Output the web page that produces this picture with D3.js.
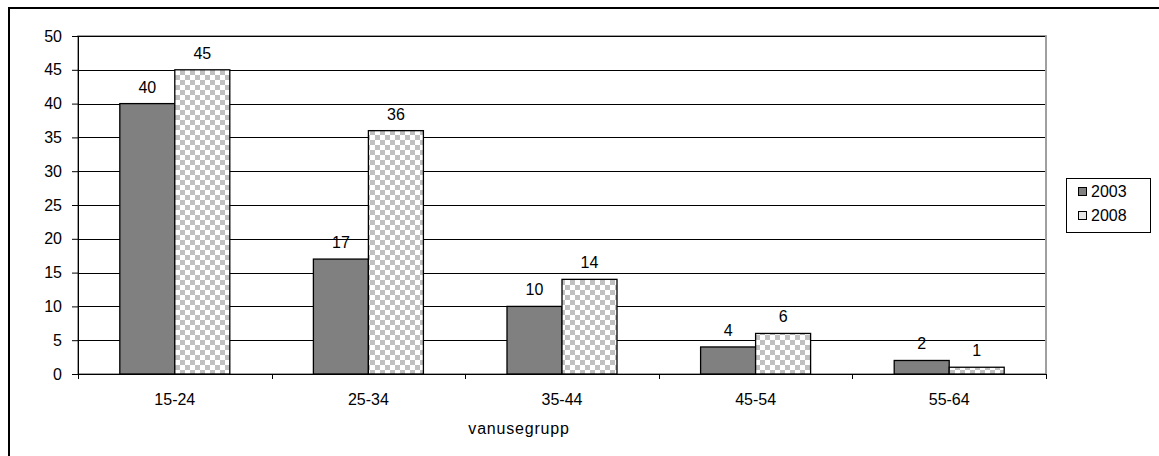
<!DOCTYPE html>
<html><head><meta charset="utf-8">
<script src="https://cdn.jsdelivr.net/npm/d3@7"></script>
<style>body{margin:0;background:#fff}svg text{font-family:"Liberation Sans",Arial,sans-serif;font-size:16px;fill:#000}</style>
</head><body><svg id="c" width="1159" height="456"></svg>
<script>
const categories = ["15-24","25-34","35-44","45-54","55-64"];
const seriesNames = ["2003","2008"];
const values2003 = [40,17,10,4,2];
const values2008 = [45,36,14,6,1];
const yTicks = [0,5,10,15,20,25,30,35,40,45,50];
const xTitle = "vanusegrupp";

const FS = "16px";
const svg = d3.select("#c");
const defs = svg.append("defs");
const pat = defs.append("pattern").attr("id","chk").attr("patternUnits","userSpaceOnUse")
  .attr("width",10).attr("height",10);
pat.append("rect").attr("width",10).attr("height",10).attr("fill","#fff");
pat.append("rect").attr("width",5).attr("height",5).attr("fill","#c0c0c0");
pat.append("rect").attr("x",5).attr("y",5).attr("width",5).attr("height",5).attr("fill","#c0c0c0");

// outer border
svg.append("path").attr("d","M9,456V8H1159").attr("fill","none").attr("stroke","#000").attr("stroke-width",2);

const L=78,R=1046,T=36,B=374;
const x = d3.scaleBand().domain(categories).range([L,R]).paddingInner(0).paddingOuter(0);
const y = d3.scaleLinear().domain([0,50]).range([B,T]);
const bw = 55;

// plot border (gray)
svg.append("rect").attr("x",L).attr("y",T).attr("width",R-L).attr("height",B-T)
  .attr("fill","none").attr("stroke","#808080").attr("stroke-width",1.5);

// gridlines
svg.append("g").selectAll("line").data(yTicks.filter(d=>d>0)).join("line")
  .attr("x1",L).attr("x2",R-1).attr("y1",d=>Math.round(y(d))+0.5).attr("y2",d=>Math.round(y(d))+0.5)
  .attr("stroke","#000").attr("stroke-width",1);

// y axis
const ya = svg.append("g").attr("transform",`translate(${L},0)`)
  .call(d3.axisLeft(y).tickValues(yTicks).tickSize(6).tickPadding(10));
ya.select(".domain").attr("stroke","#000");
ya.selectAll("line").attr("stroke","#000");
ya.selectAll("text").style("font-size",FS).attr("fill","#000");

// x axis
const xa = svg.append("g").attr("transform",`translate(0,${B})`);
xa.append("line").attr("x1",L).attr("x2",R).attr("y1",0.5).attr("y2",0.5).attr("stroke","#000");
const bounds = categories.map(c=>x(c)).concat([R]);
xa.selectAll("line.t").data(bounds).join("line").attr("class","t")
  .attr("x1",d=>Math.round(d)+0.5).attr("x2",d=>Math.round(d)+0.5).attr("y1",0).attr("y2",5).attr("stroke","#000");
xa.selectAll("text").data(categories).join("text")
  .attr("x",d=>x(d)+x.bandwidth()/2).attr("y",31).attr("text-anchor","middle")
  .style("font-size",FS).text(d=>d);

svg.append("text").attr("x",519).attr("y",434).attr("text-anchor","middle")
  .style("font-size",FS).style("letter-spacing","0.8px").text(xTitle);

// bars
const series = [values2003, values2008];
const fills = ["#808080","url(#chk)"];
series.forEach((vals,si)=>{
  const g = svg.append("g");
  const cx = c=>x(c)+x.bandwidth()/2 + (si===0?-bw:0);
  g.selectAll("rect").data(categories).join("rect")
    .attr("x",c=>cx(c)).attr("width",bw)
    .attr("y",(c,i)=>y(vals[i])).attr("height",(c,i)=>B-y(vals[i]))
    .attr("fill",fills[si]).attr("stroke","#000").attr("stroke-width",1.3);
  g.selectAll("text").data(categories).join("text")
    .attr("x",c=>cx(c)+bw/2).attr("y",(c,i)=>y(vals[i])-11).attr("text-anchor","middle")
    .style("font-size",FS).text((c,i)=>vals[i]);
});

// legend
const lg = svg.append("g");
lg.append("rect").attr("x",1066.5).attr("y",178.5).attr("width",84).attr("height",54)
  .attr("fill","#fff").attr("stroke","#000");
seriesNames.forEach((n,i)=>{
  lg.append("rect").attr("x",1078.5).attr("y",187.5+i*24).attr("width",8).attr("height",8)
    .attr("fill",i===0?"#808080":"#e6e6e6").attr("stroke","#000");
  lg.append("text").attr("x",1091).attr("y",197+i*24).text(n).style("font-size",FS);
});
</script></body></html>
